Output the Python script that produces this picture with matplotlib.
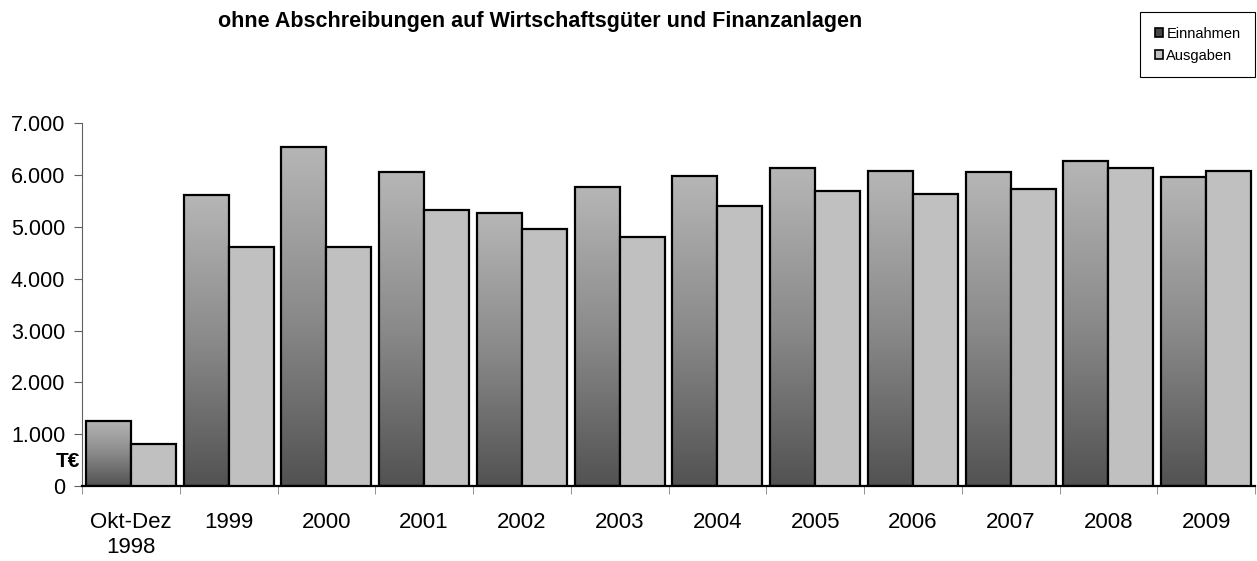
import numpy as np
import matplotlib
matplotlib.use("Agg")
import matplotlib.pyplot as plt
from matplotlib.colors import LinearSegmentedColormap
from matplotlib.patches import Patch
from matplotlib.transforms import blended_transform_factory

plt.rcParams["font.family"] = ["Liberation Sans", "DejaVu Sans"]

# Daten (T€)
kategorien = ["Okt-Dez\n1998", "1999", "2000", "2001", "2002", "2003",
              "2004", "2005", "2006", "2007", "2008", "2009"]
einnahmen = [1260, 5610, 6550, 6055, 5265, 5780, 5980, 6130, 6080, 6060, 6270, 5970]
ausgaben = [820, 4620, 4610, 5320, 4955, 4815, 5400, 5690, 5640, 5740, 6130, 6070]

titel = "ohne Abschreibungen auf Wirtschaftsgüter und Finanzanlagen"

fig = plt.figure(figsize=(12.57, 5.61), dpi=100)
ax = fig.add_axes([82 / 1257, 1 - 486 / 561, 1173 / 1257, (486 - 123.3) / 561])

x = np.arange(len(kategorien))
breite = 0.46

# Verlauf für Einnahmen: unten dunkel, oben hell
verlauf = LinearSegmentedColormap.from_list("verlauf", ["#525252", "#8a8a8a", "#b6b6b6"])
grad = np.linspace(0, 1, 256).reshape(-1, 1)

bars_e = ax.bar(x - breite / 2, einnahmen, breite, facecolor="none",
                edgecolor="black", linewidth=1.6, zorder=3)
for b in bars_e:
    x0, y0 = b.get_x(), b.get_y()
    ax.imshow(grad, cmap=verlauf, origin="lower", aspect="auto",
              extent=[x0, x0 + b.get_width(), y0, y0 + b.get_height()], zorder=2)
ax.bar(x + breite / 2, ausgaben, breite, color="#c0c0c0",
       edgecolor="black", linewidth=1.6, zorder=3)

ax.set_xlim(-0.5, len(kategorien) - 0.5)
ax.set_ylim(0, 7000)

# Achsen
for s in ["top", "right"]:
    ax.spines[s].set_visible(False)
ax.spines["left"].set_color("#606060")
ax.spines["bottom"].set_color("black")
ax.spines["bottom"].set_linewidth(1.6)

ax.set_yticks(np.arange(0, 7001, 1000))
ax.set_yticklabels([f"{v:,}".replace(",", ".") for v in range(0, 7001, 1000)])
ax.tick_params(axis="y", length=6, color="#606060", labelsize=15.5, pad=6)

ax.set_xticks(x)
ax.set_xticklabels(kategorien, linespacing=1.25)
ax.set_xticks(np.arange(-0.5, len(kategorien)), minor=True)
ax.tick_params(axis="x", which="major", length=0, labelsize=16, pad=19)
ax.tick_params(axis="x", which="minor", length=6, color="#808080")

trans = blended_transform_factory(ax.transAxes, ax.transData)
ax.text(-0.002, 480, "T€", transform=trans, ha="right", va="center",
        fontsize=15, fontweight="bold")

fig.text(540 / 1257, 1 - 22 / 561, titel, ha="center", va="center",
         fontsize=15.5, fontweight="bold")

handles = [Patch(facecolor="#454545", edgecolor="black", linewidth=1.2, label="Einnahmen"),
           Patch(facecolor="#c0c0c0", edgecolor="black", linewidth=1.2, label="Ausgaben")]
leg = fig.legend(handles=handles, loc="upper right",
                 bbox_to_anchor=(1255 / 1257, 1 - 12 / 561), borderaxespad=0,
                 fontsize=10.5, handlelength=0.6, handleheight=0.6,
                 handletextpad=0.2, labelspacing=0.55, fancybox=False,
                 edgecolor="black", framealpha=1, borderpad=1.0)
leg.get_frame().set_linewidth(0.8)

fig.savefig("out.png", dpi=100)
